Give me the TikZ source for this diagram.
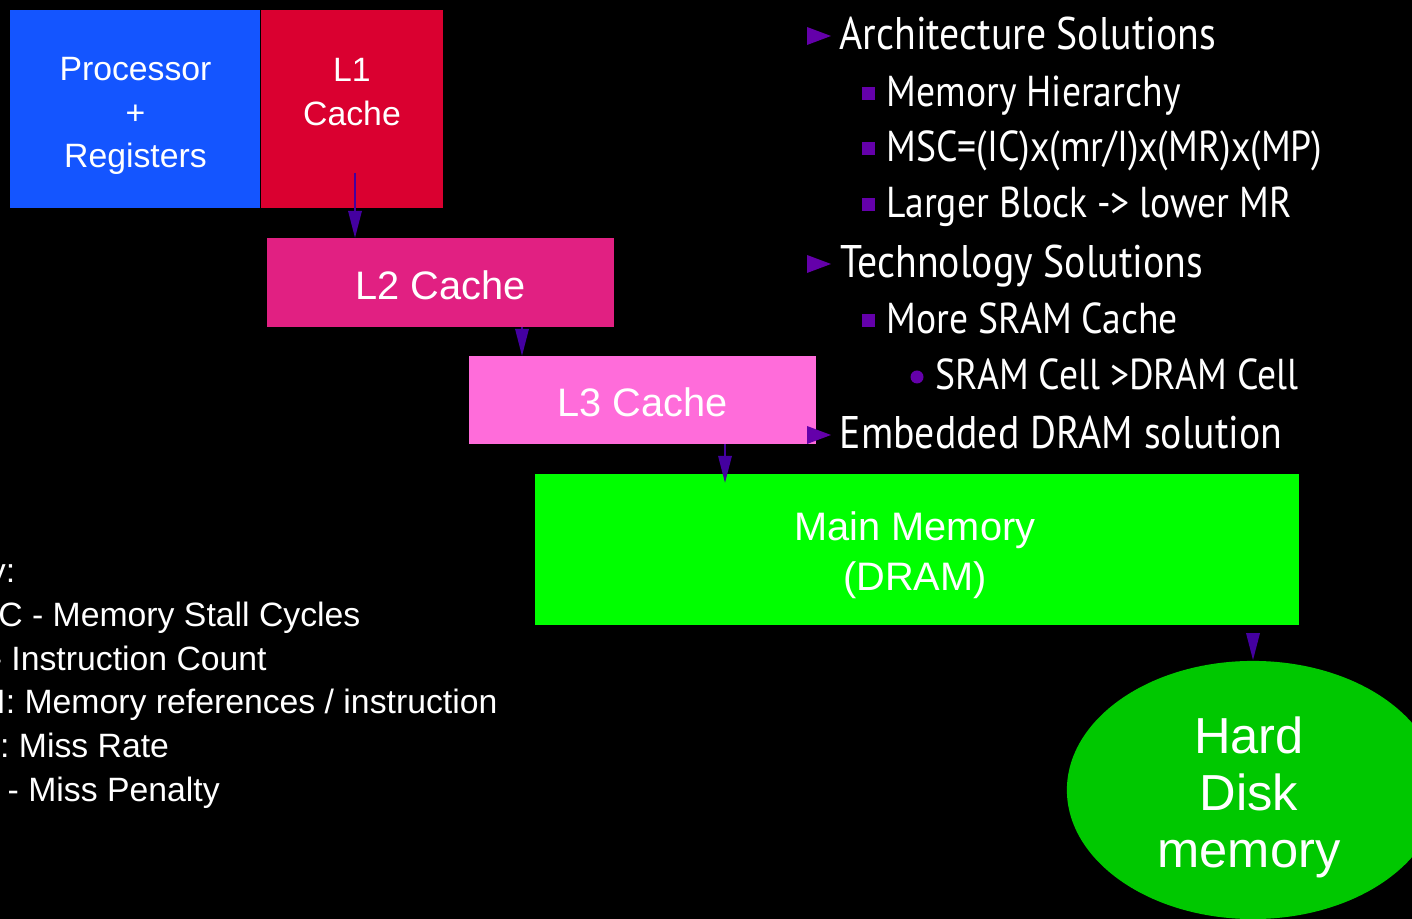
\documentclass[tikz,border=0pt]{standalone}
\usepackage{fontspec}
\setmainfont{Liberation Sans}
\newfontfamily\bulletfont[FakeStretch=0.87]{PT Sans}
\usetikzlibrary{positioning,arrows.meta,shapes.geometric}
\definecolor{procblue}{RGB}{20,85,255}
\definecolor{lonered}{RGB}{218,0,48}
\definecolor{ltwopink}{RGB}{225,32,130}
\definecolor{lthreepink}{RGB}{255,108,218}
\definecolor{dramgreen}{RGB}{0,255,0}
\definecolor{diskgreen}{RGB}{0,200,0}
\definecolor{arrowpurple}{RGB}{68,0,160}
\definecolor{bulletpurple}{RGB}{100,0,170}

\begin{document}
\begin{tikzpicture}[x=0.01cm, y=-0.01cm,
    box/.style={rectangle, inner sep=0pt, outer sep=0pt, text=white, align=center},
    smalltext/.style={text=white, align=center, inner sep=0pt, font=\fontsize{9.6}{12.45}\selectfont},
    midtext/.style={text=white, align=center, inner sep=0pt, font=\fontsize{11.3}{14.2}\selectfont},
    bigtext/.style={text=white, align=center, inner sep=0pt, font=\fontsize{14.4}{16.2}\selectfont},
    flow/.style={arrowpurple, line width=0.6pt, -{Triangle[length=7.7pt,width=3.8pt]}},
    lvlone/.style={anchor=base west, text=white, inner sep=0pt, font=\bulletfont\fontsize{13}{15}\selectfont},
    lvltwo/.style={anchor=base west, text=white, inner sep=0pt, font=\bulletfont\fontsize{12.3}{14}\selectfont},
    keyline/.style={anchor=base west, text=white, inner sep=0pt, font=\fontsize{9.6}{12.45}\selectfont}]
    \useasboundingbox (0,0) rectangle (1412,919);
    \clip (0,0) rectangle (1412,919);
    \fill[black] (0,0) rectangle (1412,919);

    % memory hierarchy
    \node[box, fill=procblue, minimum width=2.50cm, minimum height=1.98cm] (proc) at (135,109) {};
    \node[smalltext] (proclabel) at (135.5,116) {Processor\\+\\Registers};
    \node[box, fill=lonered, minimum width=1.82cm, minimum height=1.98cm] (lone) at (352,109) {};
    \node[smalltext] (lonelabel) at (352,92) {L1\\Cache};
    \node[box, fill=ltwopink, minimum width=3.47cm, minimum height=0.89cm] (ltwo) at (440.5,282.5) {};
    \node[midtext] (ltwolabel) at (440.5,285) {L2 Cache};
    \node[box, fill=lthreepink, minimum width=3.47cm, minimum height=0.88cm] (lthree) at (642.5,400) {};
    \node[midtext] (lthreelabel) at (642.5,402.5) {L3 Cache};
    \node[box, fill=dramgreen, minimum width=7.64cm, minimum height=1.51cm] (dram) at (917,549.5) {};
    \node[midtext] (dramlabel) at (915,555.5) {Main Memory\\(DRAM)};
    \node[ellipse, fill=diskgreen, inner sep=0pt, minimum width=3.72cm, minimum height=2.58cm] (disk) at (1253,790) {};
    \node[bigtext] (disklabel) at (1249,797) {Hard\\Disk\\memory};

    \coordinate (loneout) at (355,0);
    \coordinate (ltwoout) at (522,0);
    \coordinate (lthreeout) at (725,0);
    \draw[flow] ([yshift=0.35cm]lone.south -| loneout) -- (ltwo.north -| loneout);
    \draw[flow] (ltwo.south -| ltwoout) -- (lthree.north -| ltwoout);
    \draw[flow] (lthree.south -| lthreeout) -- ([yshift=-0.09cm]dram.north -| lthreeout);
    \draw[flow] ([yshift=-0.08cm]dram.south -| disk.north) -- (disk.north);

    % bullets
    \foreach \y in {36,264,435}
        \fill[bulletpurple] (807,\y-9) -- (831,\y) -- (807,\y+9) -- cycle;
    \foreach \y in {94,149,205,321}
        \fill[bulletpurple] (862,\y-6.5) rectangle (875,\y+6.5);
    \fill[bulletpurple] (917,377) circle (0.065cm);

    \node[lvlone] (arch) at (839,50) {Architecture Solutions};
    \node[lvltwo] (hier) at (886,107) {Memory Hierarchy};
    \node[lvltwo] (msc) at (886,162) {MSC=(IC)x(mr/I)x(MR)x(MP)};
    \node[lvltwo] (block) at (886,218) {Larger Block -> lower MR};
    \node[lvlone] (tech) at (840,278) {Technology Solutions};
    \node[lvltwo] (sram) at (886,334) {More SRAM Cache};
    \node[lvltwo] (cell) at (935,390) {SRAM Cell >DRAM Cell};
    \node[lvlone] (edram) at (839,449) {Embedded DRAM solution};

    % key
    \foreach \txt [count=\i] in {Key:, MSC - Memory Stall Cycles, IC - Instruction Count,
        mr/I: Memory references / instruction, MR: Miss Rate, MP - Miss Penalty}
        \node[keyline] (key\i) at (-53,{539.4+43.6*\i}) {\txt};
\end{tikzpicture}
\end{document}
